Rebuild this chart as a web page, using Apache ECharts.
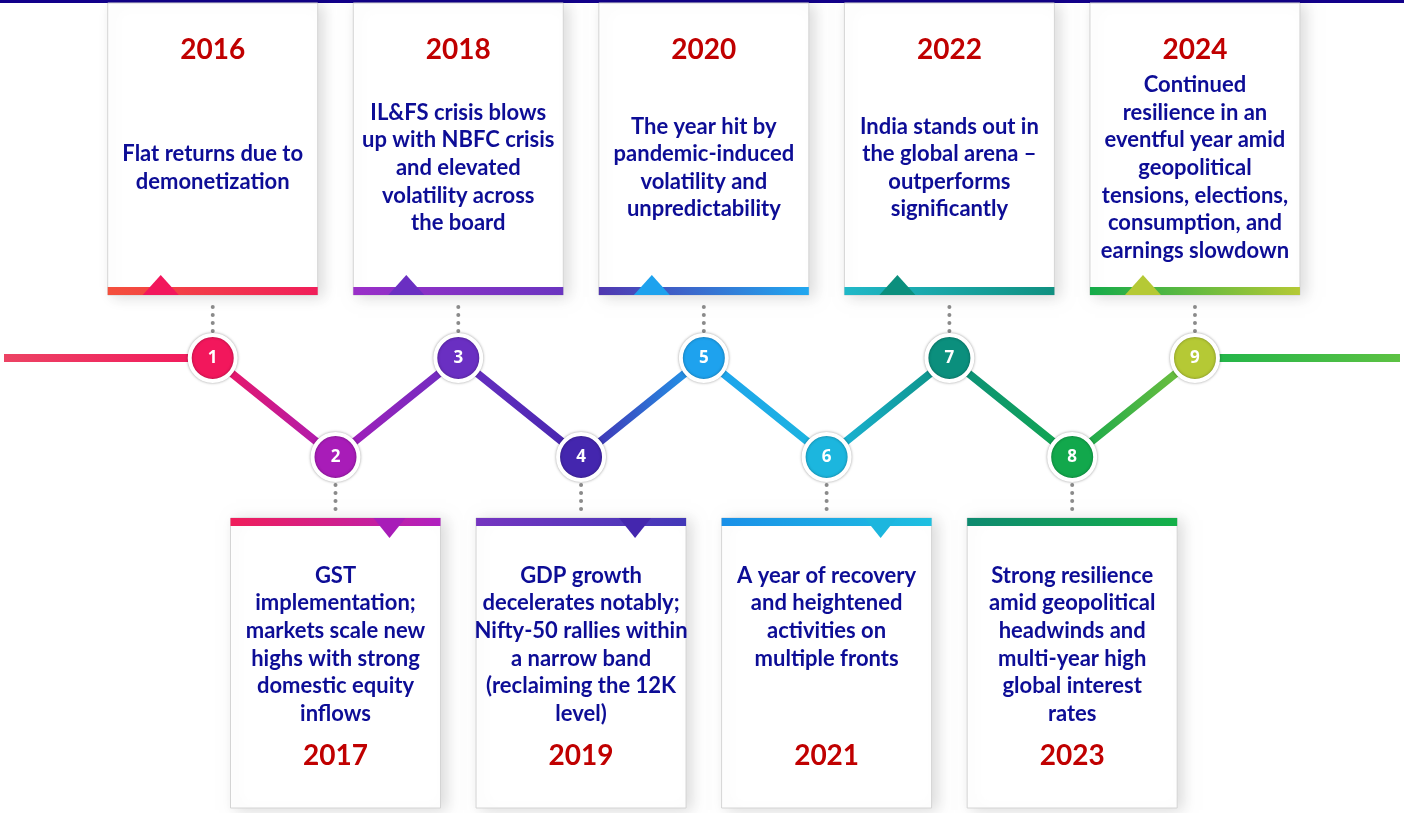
<!DOCTYPE html>
<html><head><meta charset="utf-8">
<script src="https://cdn.jsdelivr.net/npm/echarts@6/dist/echarts.min.js"></script>
<style>html,body{margin:0;padding:0;background:#fff}#chart{width:1404px;height:813px}</style>
</head><body><div id="chart"></div>
<script>
// ---- data ----
const years = ['2016','2017','2018','2019','2020','2021','2022','2023','2024'];
const steps = [1,2,3,4,5,6,7,8,9];
const levels = [1,0,1,0,1,0,1,0,1];   // 1 = upper row, 0 = lower row
const descriptions = [
  'Flat returns due to\ndemonetization',
  'GST\nimplementation;\nmarkets scale new\nhighs with strong\ndomestic equity\ninflows',
  'IL&FS crisis blows\nup with NBFC crisis\nand elevated\nvolatility across\nthe board',
  'GDP growth\ndecelerates notably;\nNifty-50 rallies within\na narrow band\n(reclaiming the 12K\nlevel)',
  'The year hit by\npandemic-induced\nvolatility and\nunpredictability',
  'A year of recovery\nand heightened\nactivities on\nmultiple fronts',
  'India stands out in\nthe global arena \u2013\noutperforms\nsignificantly',
  'Strong resilience\namid geopolitical\nheadwinds and\nmulti-year high\nglobal interest\nrates',
  'Continued\nresilience in an\neventful year amid\ngeopolitical\ntensions, elections,\nconsumption, and\nearnings slowdown'
];
const hasPointer = [true,true,true,true,true,true,true,false,true];

// ---- styles ----
const nodeColors = ['#f2175c','#a81cb8','#6a2fc2','#4426ae','#1ea2ee','#1cb6de','#0b8f7d','#12a84c','#b5c935'];
const barColors = [
  ['#f4503c','#f01e5a'], ['#f01e5a','#b020c0'], ['#9a2fc8','#6a35c0'], ['#7535c0','#4238b8'],
  ['#5037b0','#20a8f0'], ['#1a90e8','#1ec0e0'], ['#20b8c8','#109080'], ['#0e8a70','#14b048'],
  ['#14ab4a','#b5c935']
];
const axisMin = -1.7, axisMax = 9.67;

const chart = echarts.init(document.getElementById('chart'));

const nodeData = steps.map((s, i) => [i, levels[i]]);
const lineData = [[axisMin, levels[0]]].concat(nodeData, [[axisMax, levels[levels.length - 1]]]);
const span = axisMax - axisMin;
const stops = [{offset: 0, color: '#ec4464'}];
nodeColors.forEach((c, i) => {
  const off = (i - axisMin) / span;
  stops.push({offset: off, color: i === 8 ? '#7cc23c' : c});
});
stops.push({offset: (8 - axisMin) / span, color: '#1db44a'});
stops.push({offset: 1, color: '#5ec243'});

const textFont = 'Lato, "Open Sans", sans-serif';

function renderBox(params, api) {
  const i = params.dataIndex;
  const lv = api.value(1);
  const p = api.coord([api.value(0), lv]);
  const W = 210;
  const x0 = p[0] - W / 2;
  const up = lv === 1;
  const children = [];
  let boxTop, boxH, barY, yearY, descY, descVA;
  if (up) {
    boxTop = p[1] - 355; boxH = 292; barY = boxTop + boxH - 8;
    yearY = boxTop + 47; descY = boxTop + 165; descVA = 'middle';
  } else {
    boxTop = p[1] + 61; boxH = 290; barY = boxTop;
    yearY = boxTop + 238; descY = boxTop + 44; descVA = 'top';
  }
  children.push({
    type: 'rect',
    shape: {x: x0, y: boxTop, width: W, height: boxH},
    style: {fill: '#fff', stroke: '#d4d4d4', lineWidth: 1,
      shadowBlur: 14, shadowOffsetX: 5, shadowOffsetY: 2, shadowColor: 'rgba(0,0,0,0.14)'}
  });
  children.push({
    type: 'rect',
    shape: {x: x0, y: barY, width: W, height: 8},
    style: {fill: new echarts.graphic.LinearGradient(0, 0, 1, 0, [
      {offset: 0, color: barColors[i][0]}, {offset: 1, color: barColors[i][1]}])}
  });
  if (hasPointer[i]) {
    if (up) {
      const cx = p[0] - 52;
      children.push({type: 'polygon', shape: {points: [[cx - 18, barY + 8], [cx, barY - 12], [cx + 18, barY + 8]]},
        style: {fill: nodeColors[i]}});
    } else {
      const cx = p[0] + 54;
      children.push({type: 'polygon', shape: {points: [[cx - 16, barY], [cx, barY + 20], [cx + 16, barY]]},
        style: {fill: nodeColors[i]}});
    }
  }
  // dotted connector
  for (let k = 0; k < 4; k++) {
    const dy = up ? (p[1] - 51 + k * 8) : (p[1] + 28 + k * 8);
    children.push({type: 'circle', shape: {cx: p[0], cy: dy, r: 2}, style: {fill: '#8a8a8a'}});
  }
  children.push({
    type: 'text',
    style: {text: years[i], x: p[0], y: yearY, align: 'center', verticalAlign: 'middle',
      font: 'bold 28px ' + textFont, fill: '#c00000'}
  });
  children.push({
    type: 'text',
    style: {text: descriptions[i], x: p[0], y: descY, align: 'center', verticalAlign: descVA,
      font: 'bold 22px ' + textFont, fill: '#0d0d96', lineHeight: 27.6}
  });
  return {type: 'group', children: children};
}

chart.setOption({
  animation: false,
  backgroundColor: '#fff',
  grid: {left: 4, right: 4, top: 358, bottom: 356},
  xAxis: {type: 'value', min: axisMin, max: axisMax, show: false},
  yAxis: {type: 'value', min: 0, max: 1, show: false},
  graphic: [{type: 'rect', left: 0, top: 0, shape: {width: 1404, height: 3}, style: {fill: '#12008a'}}],
  series: [
    {type: 'custom', data: nodeData, renderItem: renderBox, z: 1, clip: false},
    {type: 'line', data: lineData, symbol: 'none', z: 2, clip: false,
      lineStyle: {width: 8, color: new echarts.graphic.LinearGradient(0, 0, 1, 0, stops)}},
    {type: 'scatter', data: nodeData, z: 3, symbolSize: 46,
      itemStyle: {
        color: (p) => nodeColors[p.dataIndex], opacity: 1,
        borderColor: '#fff', borderWidth: 4,
        shadowBlur: 3, shadowColor: 'rgba(0,0,0,0.35)'
      },
      label: {show: true, position: 'inside', formatter: (p) => String(steps[p.dataIndex]),
        color: '#fff', fontWeight: 'bold', fontSize: 17, fontFamily: 'Open Sans, sans-serif'}
    }
  ]
});
</script></body></html>
